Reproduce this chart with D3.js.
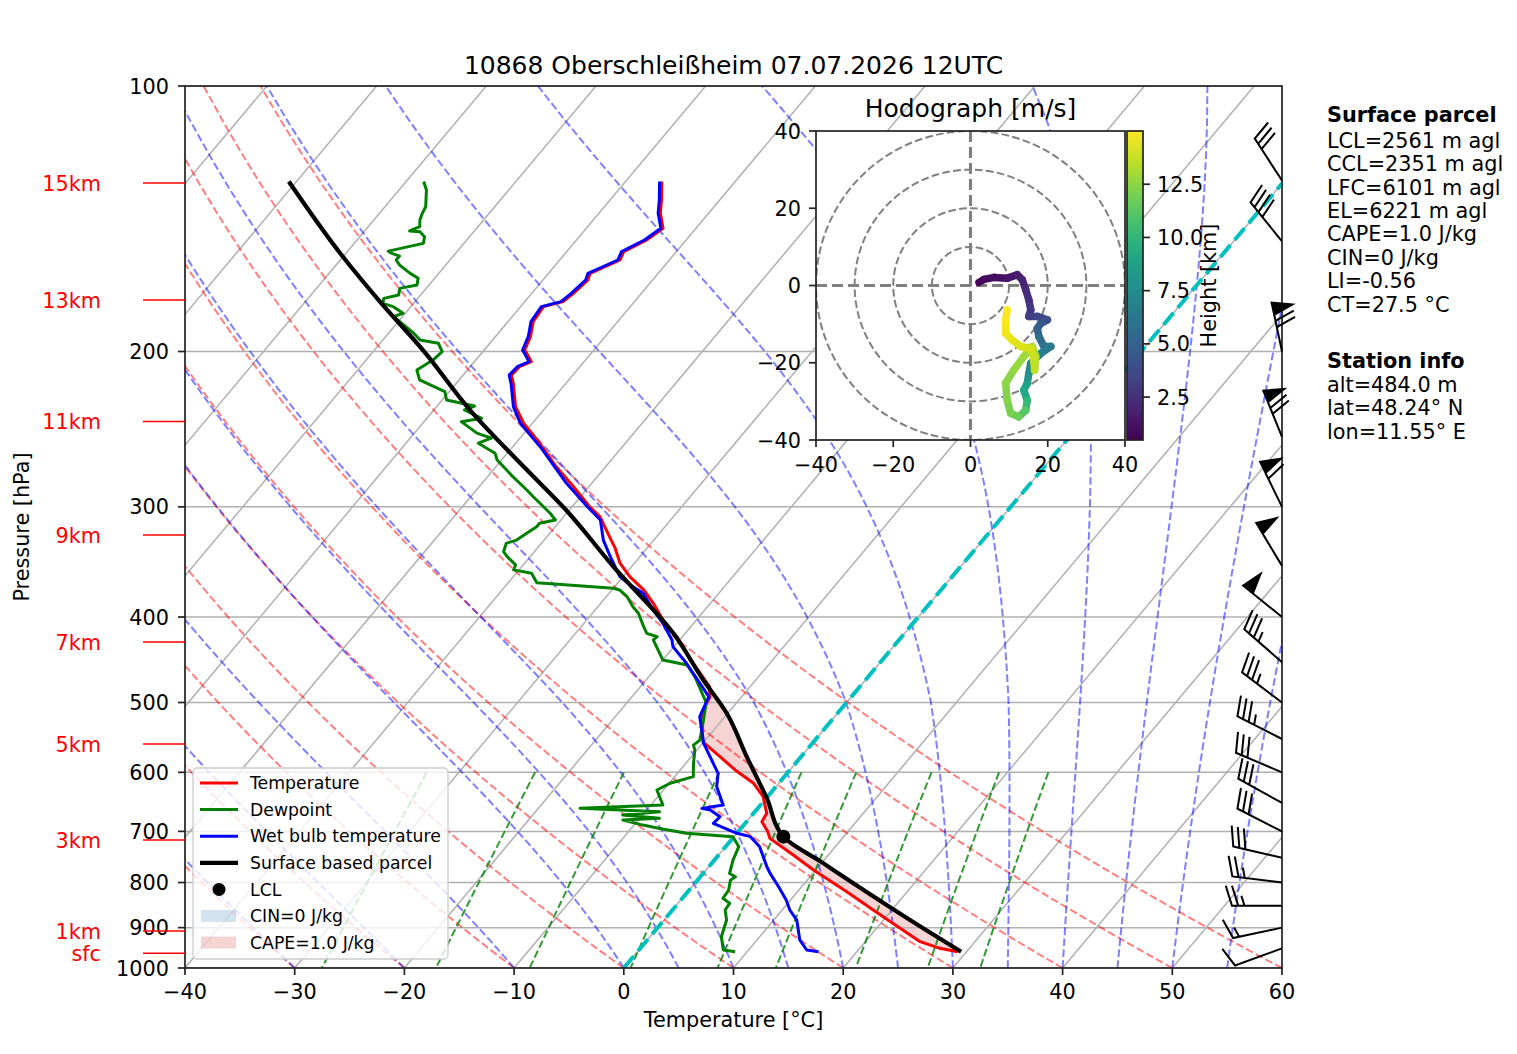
<!DOCTYPE html>
<html>
<head>
<meta charset="utf-8">
<script src="https://cdn.jsdelivr.net/npm/d3@7.9.0/dist/d3.min.js"></script>
<style>
body { margin: 0; background: #fff; }
svg text { font-family: "DejaVu Sans", sans-serif; }
</style>
</head>
<body>
<svg id="chart" width="1517" height="1054"></svg>
<script>
// ---- data read off the sounding ----
// [pressure hPa, value degC]
const temperature = [[958.3,29.2],[949.9,27.3],[933.6,25.0],[889.9,21.1],[859.5,18.3],[819.6,14.5],[774.3,9.8],[744.4,6.8],[712.9,3.4],[700.6,2.7],[682.6,1.4],[667.8,1.2],[653.5,0.4],[639.4,-0.4],[617.4,-2.3],[596.3,-5.0],[570.9,-8.0],[554.0,-10.1],[514.3,-12.4],[492.5,-12.9],[479.8,-13.7],[451.3,-17.0],[421.1,-20.5],[410.2,-22.2],[385.9,-25.2],[372.7,-27.1],[359.9,-29.4],[347.6,-31.3],[334.2,-32.9],[324.3,-34.3],[307.8,-36.7],[299.9,-38.4],[284.6,-41.4],[270.2,-44.5],[251.9,-48.3],[241.2,-50.8],[231.0,-52.8],[217.3,-54.8],[212.7,-55.6],[208.1,-55.5],[205.4,-54.8],[199.2,-56.3],[192.4,-56.8],[185.0,-57.7],[177.9,-57.9],[175.6,-56.5],[171.8,-56.2],[166.0,-55.9],[163.1,-56.2],[157.5,-54.5],[154.1,-54.8],[149.5,-53.6],[145.0,-53.0],[139.4,-54.4],[134.7,-55.3],[128.3,-56.7]];

const dewpoint = [[958.3,8.9],[954.1,7.7],[921.6,6.5],[882.3,5.7],[859.5,4.8],[844.6,4.7],[833.6,3.7],[816.0,3.6],[795.1,3.0],[788.2,3.2],[781.1,2.4],[754.2,1.7],[728.5,1.2],[709.7,-0.1],[703.5,-4.6],[694.6,-7.4],[688.6,-9.2],[679.6,-11.4],[676.6,-8.2],[670.8,-11.8],[665.1,-8.7],[659.2,-16.2],[653.5,-8.9],[628.3,-10.6],[617.4,-9.9],[606.8,-8.3],[586.1,-9.3],[566.1,-10.2],[558.8,-10.7],[551.6,-10.5],[527.9,-11.5],[500.0,-12.8],[467.5,-15.8],[453.4,-17.4],[447.5,-20.0],[432.2,-21.6],[424.7,-22.4],[421.1,-22.3],[417.4,-23.5],[410.2,-24.3],[396.1,-25.8],[389.4,-26.8],[379.3,-28.1],[372.7,-29.3],[371.1,-30.0],[365.7,-37.4],[356.8,-38.6],[353.7,-40.5],[349.1,-40.7],[341.6,-42.1],[337.3,-42.8],[330.0,-43.2],[327.2,-42.5],[321.5,-42.1],[316.0,-41.7],[313.2,-41.7],[310.5,-40.5],[305.1,-41.5],[299.9,-42.6],[292.2,-44.3],[287.1,-45.4],[277.3,-47.7],[270.2,-49.3],[265.5,-50.4],[260.9,-51.1],[254.1,-53.4],[250.8,-52.6],[247.5,-54.3],[240.2,-56.6],[238.1,-55.0],[233.0,-57.2],[230.6,-56.6],[227.0,-59.6],[222.1,-60.4],[215.4,-63.6],[209.9,-64.6],[204.5,-63.9],[200.1,-63.7],[195.7,-64.7],[194.1,-66.6],[190.7,-67.7],[182.6,-70.8],[181.0,-70.2],[177.9,-71.6],[176.4,-72.8],[174.1,-73.1],[172.6,-72.0],[169.6,-72.4],[168.1,-71.1],[165.2,-71.5],[163.1,-72.6],[159.6,-74.2],[157.5,-74.9],[155.9,-74.9],[154.8,-75.8],[153.9,-76.3],[150.8,-73.7],[148.2,-74.1],[146.3,-74.9],[146.0,-75.9],[144.4,-75.3],[141.9,-75.8],[139.4,-76.1],[137.0,-76.3],[131.2,-77.5],[128.3,-78.4]];

const wetBulb = [[958.3,16.5],[954.1,15.3],[929.5,13.9],[882.3,12.1],[859.5,10.7],[837.3,9.6],[809.0,7.9],[781.1,6.1],[767.8,5.3],[728.5,3.1],[709.7,1.5],[703.5,0.0],[685.5,-2.9],[673.8,-2.8],[662.1,-4.2],[659.2,-5.1],[653.5,-3.4],[622.9,-5.4],[601.5,-6.3],[576.0,-8.3],[556.3,-9.9],[518.9,-12.3],[492.5,-13.0],[451.3,-17.6],[432.2,-20.1],[424.7,-20.7],[406.6,-22.8],[392.7,-24.7],[375.9,-26.9],[367.9,-28.7],[359.9,-30.3],[341.6,-32.7],[327.2,-34.6],[310.5,-36.4],[299.9,-38.6],[282.1,-42.3],[256.4,-47.5],[241.2,-51.1],[231.0,-53.0],[217.3,-55.0],[212.7,-55.8],[208.1,-55.7],[205.4,-55.0],[199.2,-56.5],[192.4,-57.0],[185.0,-57.9],[177.9,-58.1],[175.6,-56.7],[171.8,-56.4],[166.0,-56.1],[163.1,-56.4],[157.5,-54.7],[154.1,-55.0],[149.5,-53.8],[145.0,-53.2],[139.4,-54.6],[134.7,-55.5],[128.3,-56.9]];

const parcel = [[958.3,29.5],[880,22.2],[809,15.2],[760,10.1],[709.7,4.5],[642,0.05],[576,-4.96],[514.3,-10.1],[471.5,-14.78],[417.4,-21.08],[350.7,-31.65],[302.5,-40.3],[271.3,-47.2],[233,-56.7],[199.5,-65.5],[175.6,-73.2],[156.2,-80.0],[128.3,-90.7]];
const lcl = [709.7, 4.5];

// wind barbs (direction deg, speed kt)
const barbP   = [128, 150, 200, 250, 300, 350, 400, 450, 500, 550, 600, 650, 700, 750, 800, 850, 900, 950];
const barbDir = [327, 321, 348, 338, 334, 329, 309, 311, 307, 297, 293, 299, 297, 283, 277, 270, 258, 250];
const barbSpd = [30, 40, 70, 70, 60, 50, 50, 35, 35, 35, 30, 30, 30, 30, 25, 25, 15, 10];

// hodograph (m/s) and height (km)
const hodoU = [2.2,3.5,6.1,9.5,12.1,13.4,14.3,15.1,15.6,15.1,17.3,19.9,18.2,17.3,17.7,19.0,20.8,18.2,15.6,15.1,14.7,13.8,14.7,14.3,12.5,10.4,9.5,9.1,11.2,13.8,16.0,16.9,16.6,16.3,15.6,13.0,10.8,9.1,9.1,9.5];
const hodoV = [0.8,1.6,2.1,1.9,2.8,1.5,-1.1,-3.7,-6.3,-8.0,-8.0,-8.9,-9.8,-11.1,-13.2,-15.8,-15.8,-17.6,-20.2,-22.8,-25.3,-27.1,-29.7,-32.3,-34.0,-33.1,-29.7,-25.3,-21.9,-18.4,-15.8,-18.4,-21.9,-18.4,-16.3,-15.8,-14.1,-12.4,-8.9,-6.3];
const hodoH = [0.5,0.7,0.9,1.2,1.5,1.8,2.1,2.4,2.7,3.0,3.4,3.8,4.3,4.8,5.3,5.8,6.2,6.6,7.0,7.6,8.3,8.9,9.5,10.8,11.6,12.0,12.2,12.4,12.6,12.8,13.0,13.3,13.5,13.7,13.9,14.2,14.4,14.6,14.8,15.0];
const heightRange = [0.484, 15.0];

// background line families
const dryT0 = [-40, -30, -20, -10, 0, 10, 20, 30, 40, 50, 60];
const moistT0 = [-40, -30, -20, -10, 0, 5, 10, 15, 20, 25, 30, 35, 40, 45, 50, 55, 60];
const mixRatios = [0.0004, 0.001, 0.002, 0.004, 0.007, 0.01, 0.016, 0.024, 0.032];

// ticks and labels
const tempTicks = [-40, -30, -20, -10, 0, 10, 20, 30, 40, 50, 60];
const presTicks = [100, 200, 300, 400, 500, 600, 700, 800, 900, 1000];
const kmLabels = ['15km', '13km', '11km', '9km', '7km', '5km', '3km', '1km', 'sfc'];
const kmP = [128.8, 174.8, 240.1, 322.9, 426.9, 557.2, 716.0, 908.0, 962.0];
const hodoTicks = [-40, -20, 0, 20, 40];
const hodoRings = [10, 20, 30, 40];
const cbarTicks = [2.5, 5.0, 7.5, 10.0, 12.5];
const parcelInfo = ['LCL=2561 m agl', 'CCL=2351 m agl', 'LFC=6101 m agl', 'EL=6221 m agl', 'CAPE=1.0 J/kg', 'CIN=0 J/kg', 'LI=-0.56', 'CT=27.5 °C'];
const stationInfo = ['alt=484.0 m', 'lat=48.24° N', 'lon=11.55° E'];
const titleText = '10868 Oberschleißheim 07.07.2026 12UTC';

// ---- layout ----
const M = { left: 185, right: 1282, top: 86, bottom: 968 };
const SKEW = Math.tan(40 * Math.PI / 180);
const FS = 20.8;
const minus = v => String(v).replace('-', '\u2212');

const svg = d3.select('#chart');
const defs = svg.append('defs');
defs.append('clipPath').attr('id', 'clipMain').append('rect')
  .attr('x', M.left).attr('y', M.top).attr('width', M.right - M.left).attr('height', M.bottom - M.top);

const x = d3.scaleLinear().domain([-40, 60]).range([M.left, M.right]);
const y = d3.scaleLog().domain([1000, 100]).range([M.bottom, M.top]);
const sx = (T, p) => x(T) + SKEW * (M.bottom - y(p));

const profileLine = d3.line().x(d => sx(d[1], d[0])).y(d => y(d[0]));

// interpolate a profile (ordered by falling pressure) in ln p
function interp(profile, p) {
  for (let i = 0; i < profile.length - 1; i++) {
    const a = profile[i], b = profile[i + 1];
    if (p <= a[0] && p >= b[0]) {
      const f = Math.log(a[0] / p) / Math.log(a[0] / b[0]);
      return a[1] + f * (b[1] - a[1]);
    }
  }
  return NaN;
}

const main = svg.append('g').attr('clip-path', 'url(#clipMain)');

// CAPE shading (parcel warmer than environment)
const pGrid = d3.range(0, 701).map(i => 958.3 * Math.pow(128.3 / 958.3, i / 700));
const shade = pGrid.map(p => ({ p, te: interp(temperature, p), tp: interp(parcel, p) }));
main.append('path')
  .attr('d', d3.area().defined(d => d.tp >= d.te)
    .x0(d => sx(d.te, d.p)).x1(d => sx(d.tp, d.p)).y(d => y(d.p))(shade))
  .attr('fill', '#d62728').attr('fill-opacity', 0.2);

// isotherms
d3.range(-160, 61, 10).forEach(T => {
  main.append('line')
    .attr('x1', sx(T, 1000)).attr('y1', y(1000)).attr('x2', sx(T, 100)).attr('y2', y(100))
    .attr('stroke', '#b0b0b0').attr('stroke-width', 1.5);
});
// isobars
presTicks.forEach(p => {
  main.append('line').attr('x1', M.left).attr('x2', M.right).attr('y1', y(p)).attr('y2', y(p))
    .attr('stroke', '#b0b0b0').attr('stroke-width', 1.5);
});

const pFull = d3.range(0, 91).map(i => 1000 - i * 10);

// dry adiabats
dryT0.forEach(t0 => {
  const pts = pFull.map(p => [p, (t0 + 273.15) * Math.pow(p / 1000, 0.2857) - 273.15]);
  main.append('path').attr('d', profileLine(pts)).attr('fill', 'none')
    .attr('stroke', 'red').attr('stroke-opacity', 0.5).attr('stroke-width', 2)
    .attr('stroke-dasharray', '7.7,3.3');
});

// moist adiabats; latent term trimmed aloft on the cooler lines to follow the reference
function dTdp(p, T, k) {
  const Lv = p < 500 ? k * 2.501e6 : 2.501e6;
  const es = 6.112 * Math.exp(17.67 * (T - 273.15) / (T - 29.65));
  const rs = 0.622 * es / (p - es);
  const num = (287.04 * T + Lv * rs) / p;
  const den = 1005.7 + (Lv * Lv * rs * 0.622) / (287.04 * T * T);
  return num / den;
}
moistT0.forEach(t0 => {
  const k = t0 <= 30 ? 0.95 : (t0 <= 35 ? 0.975 : 1);
  let T = t0 + 273.15;
  const pts = [[1000, t0]];
  for (let i = 0; i < 90; i++) {
    const p = 1000 - i * 10, h = -10;
    const k1 = dTdp(p, T, k), k2 = dTdp(p + h / 2, T + h / 2 * k1, k);
    const k3 = dTdp(p + h / 2, T + h / 2 * k2, k), k4 = dTdp(p + h, T + h * k3, k);
    T += h / 6 * (k1 + 2 * k2 + 2 * k3 + k4);
    pts.push([p + h, T - 273.15]);
  }
  main.append('path').attr('d', profileLine(pts)).attr('fill', 'none')
    .attr('stroke', 'blue').attr('stroke-opacity', 0.5).attr('stroke-width', 2)
    .attr('stroke-dasharray', '7.7,3.3');
});

// mixing ratio lines
const pLow = d3.range(0, 41).map(i => 600 + i * 10);
mixRatios.forEach(w => {
  const pts = pLow.map(p => {
    const e = p * w / (0.622 + w), l = Math.log(e / 6.112);
    return [p, 243.5 * l / (17.67 - l)];
  });
  main.append('path').attr('d', profileLine(pts)).attr('fill', 'none')
    .attr('stroke', 'green').attr('stroke-opacity', 0.8).attr('stroke-width', 2)
    .attr('stroke-dasharray', '7.7,3.3');
});

// 0 degC isotherm
main.append('line').attr('x1', sx(0, 1000)).attr('y1', y(1000)).attr('x2', sx(0, 100)).attr('y2', y(100))
  .attr('stroke', '#00bfbf').attr('stroke-width', 4).attr('stroke-dasharray', '15.4,6.7');

// profiles
const drawProfile = (data, color, w) => main.append('path').attr('d', profileLine(data))
  .attr('fill', 'none').attr('stroke', color).attr('stroke-width', w).attr('stroke-linejoin', 'round');
drawProfile(temperature, 'red', 3);
drawProfile(dewpoint, 'green', 3);
drawProfile(wetBulb, 'blue', 3);
main.append('path').attr('d', profileLine.curve(d3.curveMonotoneY)(parcel))
  .attr('fill', 'none').attr('stroke', 'black').attr('stroke-width', 4.2);
profileLine.curve(d3.curveLinear);
main.append('circle').attr('cx', sx(lcl[1], lcl[0])).attr('cy', y(lcl[0])).attr('r', 7).attr('fill', 'black');

// frame and ticks
svg.append('rect').attr('x', M.left).attr('y', M.top).attr('width', M.right - M.left).attr('height', M.bottom - M.top)
  .attr('fill', 'none').attr('stroke', '#222').attr('stroke-width', 1.7);
tempTicks.forEach(t => {
  svg.append('line').attr('x1', x(t)).attr('x2', x(t)).attr('y1', M.bottom).attr('y2', M.bottom + 7)
    .attr('stroke', '#222').attr('stroke-width', 1.7);
  svg.append('text').attr('x', x(t)).attr('y', 998.5).attr('text-anchor', 'middle')
    .attr('font-size', FS).text(minus(t));
});
presTicks.forEach(p => {
  svg.append('line').attr('x1', M.left - 7).attr('x2', M.left).attr('y1', y(p)).attr('y2', y(p))
    .attr('stroke', '#222').attr('stroke-width', 1.7);
  svg.append('text').attr('x', 169).attr('y', y(p) + 7.6).attr('text-anchor', 'end')
    .attr('font-size', FS).text(p);
});
svg.append('text').attr('x', (M.left + M.right) / 2).attr('y', 1027).attr('text-anchor', 'middle')
  .attr('font-size', FS).text('Temperature [°C]');
svg.append('text').attr('transform', `translate(29,${(M.top + M.bottom) / 2}) rotate(-90)`)
  .attr('text-anchor', 'middle').attr('font-size', FS).text('Pressure [hPa]');
svg.append('text').attr('x', (M.left + M.right) / 2).attr('y', 74).attr('text-anchor', 'middle')
  .attr('font-size', 25).text(titleText);

// height labels
kmLabels.forEach((lab, i) => {
  const yy = y(kmP[i]);
  svg.append('line').attr('x1', 143).attr('x2', M.left).attr('y1', yy).attr('y2', yy)
    .attr('stroke', 'red').attr('stroke-width', 1.5);
  svg.append('text').attr('x', 101).attr('y', yy + 7.6).attr('text-anchor', 'end')
    .attr('font-size', FS).attr('fill', 'red').text(lab);
});

// wind barbs
function drawBarb(bx, by, dir, spd) {
  const L = 50, fh = 0.4 * L, fw = 0.25 * L, sp = 0.125 * L;
  const a = dir * Math.PI / 180;
  const d = [Math.sin(a), -Math.cos(a)], n = [-d[1], d[0]];
  const pt = (al, ac) => [bx + d[0] * al + n[0] * ac, by + d[1] * al + n[1] * ac];
  let mag = 5 * Math.round(spd / 5);
  const nf = Math.floor(mag / 50); mag -= nf * 50;
  const nb = Math.floor(mag / 10), half = (mag - nb * 10) >= 5;
  const v = [pt(0, 0)];
  let off = L;
  for (let i = 0; i < nf; i++) {
    if (off !== L) off += sp / 2;
    v.push(pt(off, 0), pt(off - fw / 2, fh), pt(off - fw, 0));
    off -= fw + sp;
  }
  for (let i = 0; i < nb; i++) {
    v.push(pt(off, 0), pt(off + fw / 2, fh), pt(off, 0));
    off -= sp;
  }
  if (half) {
    if (off === L) { v.push(pt(off, 0)); off -= 1.5 * sp; }
    v.push(pt(off, 0), pt(off + fw / 4, fh / 2), pt(off, 0));
  }
  svg.append('path').attr('d', 'M' + v.map(q => q.join(',')).join('L') + 'Z')
    .attr('fill', 'black').attr('stroke', 'black').attr('stroke-width', 2).attr('stroke-linejoin', 'miter');
}
barbP.forEach((p, i) => drawBarb(M.right, y(p), barbDir[i], barbSpd[i]));

// legend
const lg = svg.append('g');
lg.append('rect').attr('x', 193).attr('y', 768).attr('width', 255).attr('height', 191).attr('rx', 4)
  .attr('fill', 'white').attr('fill-opacity', 0.8).attr('stroke', '#cccccc').attr('stroke-width', 1.3);
const legendItems = [
  { label: 'Temperature', type: 'line', color: 'red', w: 3 },
  { label: 'Dewpoint', type: 'line', color: 'green', w: 3 },
  { label: 'Wet bulb temperature', type: 'line', color: 'blue', w: 3 },
  { label: 'Surface based parcel', type: 'line', color: 'black', w: 4.2 },
  { label: 'LCL', type: 'dot' },
  { label: 'CIN=0 J/kg', type: 'patch', color: '#1f77b4' },
  { label: 'CAPE=1.0 J/kg', type: 'patch', color: '#d62728' }
];
legendItems.forEach((it, i) => {
  const cy = 783 + i * 26.6;
  if (it.type === 'line') {
    lg.append('line').attr('x1', 200).attr('x2', 238).attr('y1', cy).attr('y2', cy)
      .attr('stroke', it.color).attr('stroke-width', it.w);
  } else if (it.type === 'dot') {
    lg.append('circle').attr('cx', 219).attr('cy', cy).attr('r', 6.5).attr('fill', 'black');
  } else {
    lg.append('rect').attr('x', 201).attr('y', cy - 6).attr('width', 35).attr('height', 12)
      .attr('fill', it.color).attr('fill-opacity', 0.2);
  }
  lg.append('text').attr('x', 250).attr('y', cy + 6.2).attr('font-size', 17.3).text(it.label);
});

// ---- hodograph inset ----
const HB = { left: 816, right: 1125, top: 131, bottom: 440 };
const hx = d3.scaleLinear().domain([-40, 40]).range([HB.left, HB.right]);
const hy = d3.scaleLinear().domain([-40, 40]).range([HB.bottom, HB.top]);
defs.append('clipPath').attr('id', 'clipHodo').append('rect')
  .attr('x', HB.left).attr('y', HB.top).attr('width', HB.right - HB.left).attr('height', HB.bottom - HB.top);
const hodo = svg.append('g');
hodo.append('rect').attr('x', HB.left).attr('y', HB.top).attr('width', HB.right - HB.left)
  .attr('height', HB.bottom - HB.top).attr('fill', 'white');
const hin = hodo.append('g').attr('clip-path', 'url(#clipHodo)');
hodoRings.forEach(r => {
  hin.append('circle').attr('cx', hx(0)).attr('cy', hy(0)).attr('r', hx(r) - hx(0))
    .attr('fill', 'none').attr('stroke', '#808080').attr('stroke-width', 2).attr('stroke-dasharray', '7.7,3.3');
});
hin.append('line').attr('x1', HB.left).attr('x2', HB.right).attr('y1', hy(0)).attr('y2', hy(0))
  .attr('stroke', '#808080').attr('stroke-width', 3).attr('stroke-dasharray', '11,5');
hin.append('line').attr('x1', hx(0)).attr('x2', hx(0)).attr('y1', HB.top).attr('y2', HB.bottom)
  .attr('stroke', '#808080').attr('stroke-width', 3).attr('stroke-dasharray', '11,5');
const hColor = d3.scaleSequential(d3.interpolateViridis).domain(heightRange);
for (let i = 0; i < hodoU.length - 1; i++) {
  hin.append('line').attr('x1', hx(hodoU[i])).attr('y1', hy(hodoV[i]))
    .attr('x2', hx(hodoU[i + 1])).attr('y2', hy(hodoV[i + 1]))
    .attr('stroke', hColor((hodoH[i] + hodoH[i + 1]) / 2)).attr('stroke-width', 7.5)
    .attr('stroke-linecap', 'round');
}
hodo.append('rect').attr('x', HB.left).attr('y', HB.top).attr('width', HB.right - HB.left)
  .attr('height', HB.bottom - HB.top).attr('fill', 'none').attr('stroke', '#222').attr('stroke-width', 1.7);
hodoTicks.forEach(t => {
  hodo.append('line').attr('x1', hx(t)).attr('x2', hx(t)).attr('y1', HB.bottom).attr('y2', HB.bottom + 7)
    .attr('stroke', '#222').attr('stroke-width', 1.7);
  hodo.append('text').attr('x', hx(t)).attr('y', 471.5).attr('text-anchor', 'middle')
    .attr('font-size', FS).text(minus(t));
  hodo.append('line').attr('x1', HB.left - 7).attr('x2', HB.left).attr('y1', hy(t)).attr('y2', hy(t))
    .attr('stroke', '#222').attr('stroke-width', 1.7);
  hodo.append('text').attr('x', 801).attr('y', hy(t) + 7.6).attr('text-anchor', 'end')
    .attr('font-size', FS).text(minus(t));
});
hodo.append('text').attr('x', (HB.left + HB.right) / 2).attr('y', 116.5).attr('text-anchor', 'middle')
  .attr('font-size', 25).text('Hodograph [m/s]');

// colorbar
const CB = { left: 1127, right: 1143 };
const cy = d3.scaleLinear().domain(heightRange).range([HB.bottom, HB.top]);
const grad = defs.append('linearGradient').attr('id', 'viridis')
  .attr('x1', 0).attr('y1', 1).attr('x2', 0).attr('y2', 0);
d3.range(0, 11).forEach(i => {
  grad.append('stop').attr('offset', i / 10).attr('stop-color', d3.interpolateViridis(i / 10));
});
hodo.append('rect').attr('x', CB.left).attr('y', HB.top).attr('width', CB.right - CB.left)
  .attr('height', HB.bottom - HB.top).attr('fill', 'url(#viridis)')
  .attr('stroke', '#222').attr('stroke-width', 1.7);
cbarTicks.forEach(t => {
  hodo.append('line').attr('x1', CB.right).attr('x2', CB.right + 7).attr('y1', cy(t)).attr('y2', cy(t))
    .attr('stroke', '#222').attr('stroke-width', 1.7);
  hodo.append('text').attr('x', 1157).attr('y', cy(t) + 7.6).attr('font-size', FS).text(t.toFixed(1));
});
hodo.append('text').attr('transform', `translate(1216,${(HB.top + HB.bottom) / 2}) rotate(-90)`)
  .attr('text-anchor', 'middle').attr('font-size', FS).text('Height [km]');

// ---- side text ----
const side = svg.append('g');
side.append('text').attr('x', 1327).attr('y', 121.7).attr('font-size', FS).attr('font-weight', 'bold').text('Surface parcel');
parcelInfo.forEach((s, i) => side.append('text').attr('x', 1327).attr('y', 147.7 + i * 23.4).attr('font-size', FS).text(s));
side.append('text').attr('x', 1327).attr('y', 368.3).attr('font-size', FS).attr('font-weight', 'bold').text('Station info');
stationInfo.forEach((s, i) => side.append('text').attr('x', 1327).attr('y', 391.7 + i * 23.4).attr('font-size', FS).text(s));
</script>
</body>
</html>
